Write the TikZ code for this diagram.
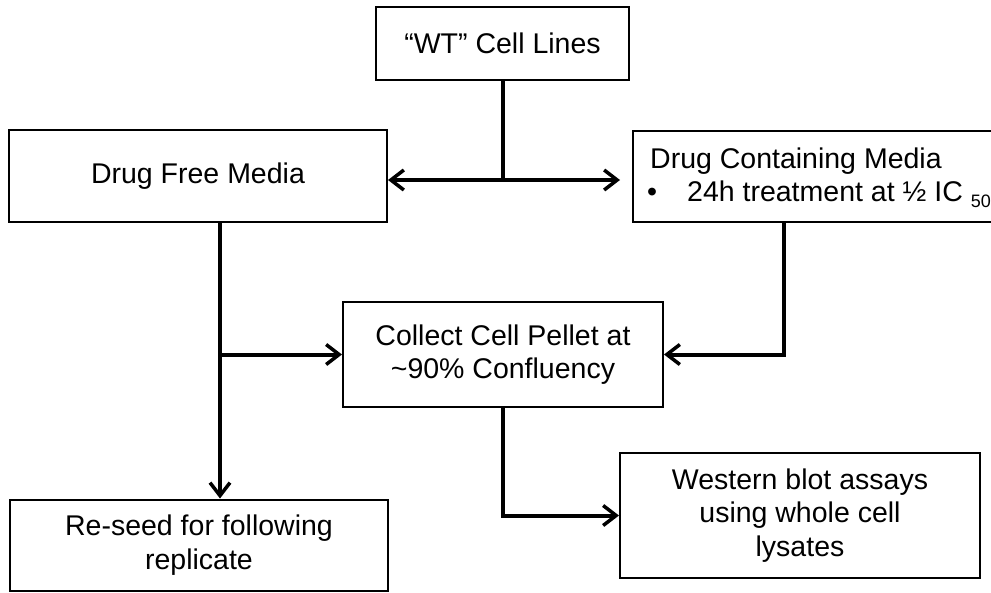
\documentclass[tikz,border=0pt]{standalone}
\usepackage{fontspec}
\setmainfont{Liberation Sans}
\usetikzlibrary{arrows.meta}
\begin{document}
\begin{tikzpicture}[x=1pt,y=-1pt,
  box/.style={draw, line width=2pt, align=center, inner sep=0pt, font=\fontsize{28.5}{33.5}\selectfont},
  conn/.style={line width=4pt},
  arr/.style={conn, -{Straight Barb[length=13pt,width=20pt,line width=3.5pt]}},
  txt/.style={inner sep=0pt, font=\fontsize{28.5}{33.5}\selectfont}]
\clip (0,0) rectangle (991,592);
\node[box, minimum width=253pt, minimum height=73pt] (wt) at (502.5,43.5) {“WT” Cell Lines};
\node[box, minimum width=378pt, minimum height=92pt] (dfm) at (198,176) {Drug Free Media};
\node[box, anchor=north west, minimum width=480pt, minimum height=91pt] (dcm) at (632,130) {};
\node[txt, anchor=base west] (dcmt) at (650,168) {Drug Containing Media};
\node[txt, anchor=base west] (dcmb) at (647,201) {•};
\node[txt, anchor=base west] (dcmc) at (687,201) {24h treatment at ½ IC {\fontsize{18}{18}\selectfont\raisebox{-6pt}{50}}};
\node[box, minimum width=320pt, minimum height=105pt] (col) at (503,354.5) {Collect Cell Pellet at\\\textasciitilde90\% Confluency};
\node[box, minimum width=378pt, minimum height=91pt] (rs) at (199,545) {Re-seed for following\\replicate};
\node[box, minimum width=360pt, minimum height=125pt] (wb) at (800,515.5) {Western blot assays\\using whole cell\\lysates};
\coordinate (j) at (wt.south |- 0,180);
\draw[conn] (wt.south) -- (j);
\draw[arr] (j) -- (dfm.east |- j);
\draw[arr, shorten >=12pt] (j) -- (dcm.west |- j);
\draw[arr] ([xshift=22pt]dfm.south) -- ([xshift=21pt]rs.north);
\draw[arr] ([xshift=22pt]dfm.south |- col.west) -- (col.west);
\draw[arr] ([xshift=152pt]dcm.south west) |- (col.east);
\draw[arr] (col.south) |- (wb.west);
\end{tikzpicture}
\end{document}
